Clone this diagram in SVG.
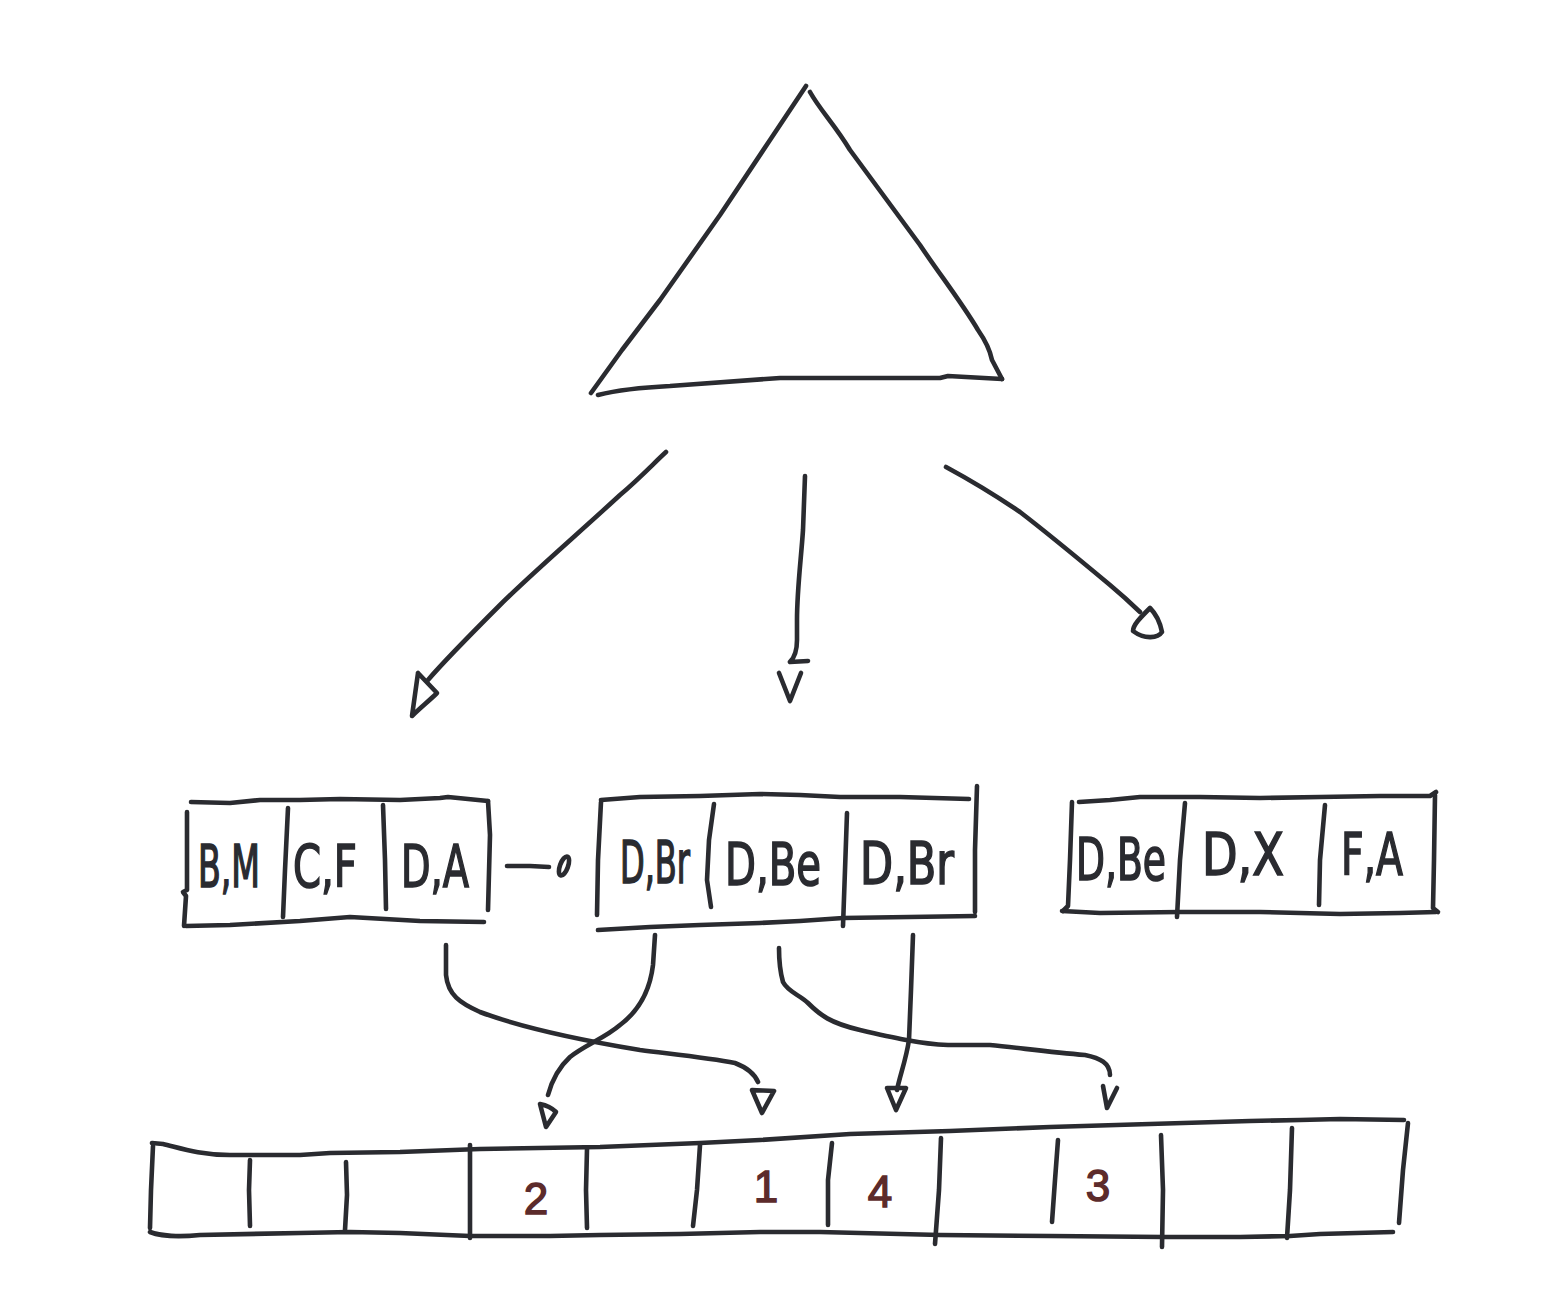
<svg xmlns="http://www.w3.org/2000/svg" width="1558" height="1310" viewBox="0 0 1558 1310">
  <style>
    .ink { fill: none; stroke: #2a2b30; stroke-width: 4.6; stroke-linecap: round; stroke-linejoin: round; }
    .lbl { font-family: "Liberation Sans Narrow", "DejaVu Sans Condensed", "Liberation Sans", sans-serif; font-size: 58px; fill: #2a2b30; stroke: #2a2b30; stroke-width: 1.6; text-anchor: middle; }
    .num { font-family: "Liberation Sans", sans-serif; font-size: 44px; fill: #5c2b2b; stroke: #5c2b2b; stroke-width: 1.4; text-anchor: middle; }
  </style>

  <!-- root of the tree -->
  <g id="root">
    <path class="ink" d="M806 86 L770 140 L720 215 L660 300 L622 350 L591 393"/>
    <path class="ink" d="M810 92 C820 110 835 125 850 150 L920 245 C940 275 960 300 978 330 C985 340 990 350 992 360 L1002 379"/>
    <path class="ink" d="M598 395 C610 392 630 388 670 386 L780 378 L940 378 L948 376 L1002 379"/>
  </g>

  <!-- leaf B,M | C,F | D,A -->
  <g id="leaf-1">
    <path class="ink" d="M191 802 L230 803 L260 800 L300 800 L340 799 L400 800 L440 798 L448 797 L488 801"/>
    <path class="ink" d="M488 801 L490 835 L488 910"/>
    <path class="ink" d="M187 812 L187 890 L183 892 L186 896 L184 926"/>
    <path class="ink" d="M186 926 L230 925 L300 921 L350 917 L420 921 L484 922"/>
    <path class="ink" d="M288 808 L285 870 L283 917"/>
    <path class="ink" d="M383 805 L385 860 L386 909"/>
    <text class="lbl" x="229" y="887" textLength="62" lengthAdjust="spacingAndGlyphs">B,M</text>
    <text class="lbl" x="325" y="887" textLength="64" lengthAdjust="spacingAndGlyphs">C,F</text>
    <text class="lbl" x="435" y="887" textLength="68" lengthAdjust="spacingAndGlyphs">D,A</text>
  </g>

  <!-- leaf D,Br | D,Be | D,Br -->
  <g id="leaf-2">
    <path class="ink" d="M601 800 L640 797 L700 796 L760 794 L800 795 L840 797 L900 797 L969 799"/>
    <path class="ink" d="M601 802 L598 860 L597 915"/>
    <path class="ink" d="M977 786 L975 850 L975 912"/>
    <path class="ink" d="M598 930 L650 927 L700 925 L760 923 L800 921 L843 918 L975 916"/>
    <path class="ink" d="M714 804 L709 840 L707 880 L711 907"/>
    <path class="ink" d="M847 813 L845 870 L843 926"/>
    <text class="lbl" x="655" y="883" textLength="70" lengthAdjust="spacingAndGlyphs">D,Br</text>
    <text class="lbl" x="773" y="885" textLength="96" lengthAdjust="spacingAndGlyphs">D,Be</text>
    <text class="lbl" x="907" y="884" textLength="94" lengthAdjust="spacingAndGlyphs">D,Br</text>
  </g>

  <!-- leaf D,Be | D,X | F,A -->
  <g id="leaf-3">
    <path class="ink" d="M1079 802 L1110 800 L1140 797 L1200 797 L1260 798 L1320 797 L1380 796 L1430 796 L1436 792"/>
    <path class="ink" d="M1072 802 L1070 860 L1068 906 L1063 911"/>
    <path class="ink" d="M1435 795 L1434 860 L1433 908 L1438 912"/>
    <path class="ink" d="M1062 911 L1100 913 L1180 912 L1260 912 L1340 914 L1400 913 L1436 912"/>
    <path class="ink" d="M1185 803 L1180 860 L1177 917"/>
    <path class="ink" d="M1325 805 L1320 860 L1319 905"/>
    <text class="lbl" x="1121" y="880" textLength="90" lengthAdjust="spacingAndGlyphs">D,Be</text>
    <text class="lbl" x="1243" y="875" textLength="82" lengthAdjust="spacingAndGlyphs">D,X</text>
    <text class="lbl" x="1372" y="875" textLength="62" lengthAdjust="spacingAndGlyphs">F,A</text>
  </g>

  <!-- value array -->
  <g id="array">
    <path class="ink" d="M152 1143 L163 1144 C180 1148 200 1155 230 1155 L300 1155 L330 1153 L400 1152 L480 1149 L600 1147 L700 1143 L760 1140 L850 1134 L950 1131 L1050 1127 L1150 1124 L1250 1121 L1300 1120 L1340 1119 L1404 1120"/>
    <path class="ink" d="M150 1232 C160 1236 180 1237 200 1235 L300 1233 L350 1232 L400 1233 L470 1236 L550 1236 L600 1235 L680 1234 L760 1232 L820 1232 L940 1235 L1050 1236 L1164 1237 L1240 1237 L1290 1236 L1320 1234 L1393 1232"/>
    <path class="ink" d="M153 1146 L151 1190 L150 1228"/>
    <path class="ink" d="M1408 1123 L1403 1170 L1399 1223"/>
    <path class="ink" d="M250 1160 L249 1190 L250 1226"/>
    <path class="ink" d="M346 1162 L347 1195 L345 1230"/>
    <path class="ink" d="M470 1145 L470 1190 L470 1238"/>
    <path class="ink" d="M587 1149 L586 1190 L587 1228"/>
    <path class="ink" d="M700 1145 L697 1190 L693 1226"/>
    <path class="ink" d="M832 1143 L828 1180 L828 1225"/>
    <path class="ink" d="M941 1138 L939 1190 L935 1244"/>
    <path class="ink" d="M1058 1140 L1055 1180 L1052 1222"/>
    <path class="ink" d="M1161 1135 L1163 1190 L1162 1247"/>
    <path class="ink" d="M1292 1128 L1290 1190 L1287 1238"/>
    <text class="num" x="536" y="1214">2</text>
    <text class="num" x="766" y="1202">1</text>
    <text class="num" x="880" y="1207">4</text>
    <text class="num" x="1098" y="1201">3</text>
  </g>

  <!-- connectors: tree to leaves, sibling link, leaves to array -->
  <g id="connectors">
    <!-- root to leaf-1 -->
    <path class="ink" d="M666 452 C655 462 640 478 620 495 C580 532 530 575 500 605 C470 635 445 660 428 680"/>
    <path class="ink" d="M418 673 L412 716 C420 708 430 700 437 693 L418 673"/>
    <!-- root to leaf-2 -->
    <path class="ink" d="M805 476 L803 530 C801 560 797 590 797 620 L797 640 C797 650 794 658 790 662 L808 661"/>
    <path class="ink" d="M779 673 L790 701 L801 673"/>
    <!-- root to leaf-3 -->
    <path class="ink" d="M946 467 C970 480 995 495 1020 512 C1050 535 1080 560 1110 585 L1125 598 L1140 612"/>
    <path class="ink" d="M1150 608 C1140 618 1133 625 1133 631 C1145 640 1158 638 1162 632 C1160 622 1155 613 1150 608 Z"/>
    <!-- sibling link leaf-1 to leaf-2 -->
    <path class="ink" d="M507 866 L530 866 L549 867"/>
    <ellipse class="ink" cx="564" cy="866" rx="4" ry="10" transform="rotate(20 564 866)"/>
    <!-- D,A to slot 1 -->
    <path class="ink" d="M446 945 L446 975 C448 995 460 1003 480 1012 C520 1027 580 1040 640 1050 C680 1055 710 1058 735 1063 C748 1068 755 1075 758 1082"/>
    <path class="ink" d="M752 1090 L762 1113 L774 1091 C766 1090 760 1091 752 1090 Z"/>
    <!-- D,Br to slot 2 -->
    <path class="ink" d="M655 935 L653 965 C650 990 640 1010 620 1025 C605 1038 585 1045 570 1057 C558 1068 552 1080 548 1095"/>
    <path class="ink" d="M540 1104 L546 1127 L556 1112 C552 1108 545 1105 540 1104"/>
    <!-- D,Be to slot 3 -->
    <path class="ink" d="M779 948 C779 960 781 975 783 982 C788 992 800 995 808 1003 C820 1015 830 1023 860 1030 C890 1037 920 1044 948 1045 L990 1045 C1020 1048 1050 1052 1085 1055 C1100 1058 1110 1063 1110 1075"/>
    <path class="ink" d="M1103 1086 L1107 1108 L1117 1088"/>
    <!-- D,Br to slot 4 -->
    <path class="ink" d="M913 935 L911 990 L909 1040 C906 1060 900 1075 897 1090"/>
    <path class="ink" d="M887 1088 L896 1110 L906 1088 Z"/>
  </g>
</svg>
